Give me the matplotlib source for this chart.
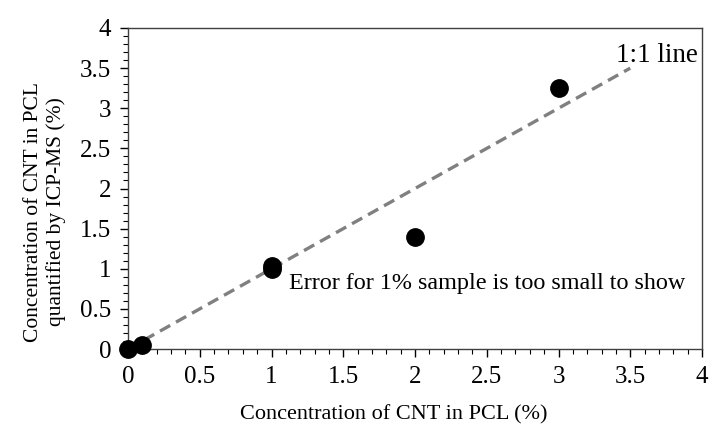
import matplotlib.pyplot as plt
from matplotlib.ticker import MultipleLocator

# measured vs nominal CNT loading (%)
nominal = [0, 0.1, 1, 1, 2, 3]
measured = [0, 0.05, 1.0, 1.03, 1.4, 3.25]
ref_line = [0, 3.5]

plt.rcParams['font.family'] = ['Liberation Serif', 'DejaVu Serif']
plt.rcParams['font.size'] = 16

fig = plt.figure(figsize=(7.09, 4.43), dpi=100)
ax = fig.add_axes([128 / 709, 1 - 349 / 443, 574 / 709, 321 / 443])

ax.plot(ref_line, ref_line, '--', color='#808080', linewidth=2.4, dashes=(3.5, 2), zorder=1)
ax.plot(nominal, measured, 'o', color='black', markersize=12.5, clip_on=False, zorder=3)

ax.text(3.4, 3.66, '1:1 line', fontsize=19.5, va='center', ha='left')
ax.text(1.12, 0.81, 'Error for 1% sample is too small to show', fontsize=17.4, va='center', ha='left')

ax.set_xlim(0, 4)
ax.set_ylim(0, 4)
ax.xaxis.set_major_locator(MultipleLocator(0.5))
ax.yaxis.set_major_locator(MultipleLocator(0.5))
ax.xaxis.set_minor_locator(MultipleLocator(0.1))
ax.yaxis.set_minor_locator(MultipleLocator(0.1))
ax.xaxis.set_major_formatter(lambda v, p: '%g' % v)
ax.yaxis.set_major_formatter(lambda v, p: '%g' % v)
ax.tick_params(which='major', direction='out', length=6, width=1, pad=6, labelsize=18)
ax.tick_params(which='minor', direction='out', length=3.5, width=0.8)
for s in ax.spines.values():
    s.set_color('#404040')
    s.set_linewidth(1)

ax.set_xlabel('Concentration of CNT in PCL (%)', fontsize=16)
ax.set_ylabel('Concentration of CNT in PCL\nquantified by ICP-MS (%)', fontsize=15.5)
ax.xaxis.set_label_coords(266 / 574, -56 / 321)
ax.yaxis.set_label_coords(-62 / 574, 137 / 321)

fig.savefig('out.png', dpi=100)
